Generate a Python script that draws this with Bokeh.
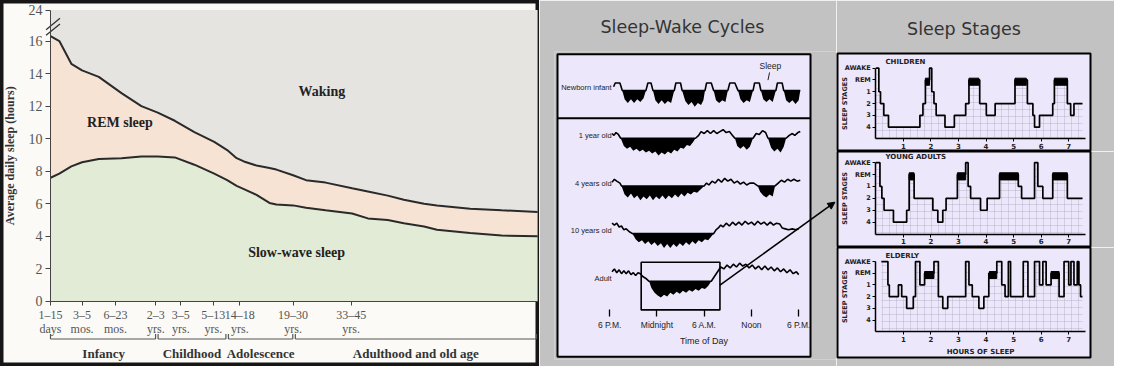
import math
from bokeh.plotting import figure
from bokeh.layouts import row, column
from bokeh.models import FixedTicker, Range1d, Arrow, NormalHead
from bokeh.core.properties import value
from bokeh.embed import file_html
from bokeh.resources import INLINE

# ---------------- Left chart: average daily sleep by age ----------------
age_range = ["1–15", "3–5", "6–23", "2–3", "3–5", "5–13", "14–18", "19–30", "33–45"]
age_unit = ["days", "mos.", "mos.", "yrs.", "yrs.", "yrs.", "yrs.", "yrs.", "yrs."]
age_pos = [0.0, 1.0, 2.06, 3.34, 4.13, 5.16, 6.0, 7.69, 9.53]
life_stages = ["Infancy", "Childhood", "Adolescence", "Adulthood and old age"]
life_stage_bounds = [0.0, 3.37, 5.6, 7.72, 15.44]

curve_x = [0.0, 0.28, 0.66, 1.0, 1.53, 2.25, 2.88, 3.4, 3.94, 4.56, 5.19, 5.6, 5.9, 6.13,
           6.53, 6.94, 7.16, 7.69, 8.1, 8.72, 9.56, 10.06, 10.69, 11.2, 11.84, 12.25,
           13.3, 14.3, 15.44]
total_sleep = [16.3, 16.0, 14.6, 14.2, 13.8, 12.8, 12.0, 11.6, 11.1, 10.4, 9.8, 9.3, 8.8, 8.6,
               8.35, 8.2, 8.1, 7.75, 7.45, 7.3, 6.95, 6.75, 6.5, 6.25, 6.0, 5.9,
               5.7, 5.6, 5.5]
nrem_sleep = [7.6, 7.85, 8.3, 8.55, 8.75, 8.8, 8.9, 8.9, 8.85, 8.4, 7.85, 7.45, 7.1, 6.9,
              6.55, 6.05, 5.95, 5.9, 5.75, 5.6, 5.4, 5.1, 5.0, 4.8, 4.6, 4.4,
              4.2, 4.05, 4.0]
y_ticks = [0, 2, 4, 6, 8, 10, 12, 14, 16]
y_top_tick = 17.9          # compressed axis top, labelled 24 h
y_top_label = "24"

# ---------------- Sleep-wake cycles (hours after 6 P.M., trace level) ----------------
sw_rows = ["Newborn infant", "1 year old", "4 years old", "10 years old", "Adult"]
newborn_t = [0.5, 0.7, 1.3, 1.6, 1.9, 2.3, 2.7, 3.1, 3.5, 3.9, 4.3, 4.6, 4.85, 5.25, 5.5, 5.8,
             6.2, 6.6, 7.0, 7.4, 7.8, 8.2, 8.4, 9.0, 9.2, 9.6, 10.0, 10.4, 10.8, 11.2, 11.6,
             11.9, 12.1, 12.3, 12.9, 13.2, 13.5, 13.9, 14.3, 14.7, 15.0, 15.25, 15.9, 16.3,
             16.6, 17.0, 17.4, 17.8, 18.2, 18.4, 19.0, 19.2, 19.5, 19.9, 20.3, 20.7, 21.1,
             21.3, 21.9, 22.1, 22.4, 22.8, 23.2, 23.6, 24.0, 24.2]
newborn_lv = [4, 8, 8, 0, -9, -13, -9, -13, -9, -12, -8, 0, 8, 8, 0, -10,
              -14, -10, -14, -11, -13, 0, 8, 8, 0, -11, -15, -12, -17, -13, -15,
              -10, 0, 8, 8, 0, -10, -13, -10, -12, 0, 8, 8, 0,
              -9, -13, -10, -12, 0, 8, 8, 0, -9, -12, -9, -12, 0,
              8, 8, 0, -10, -13, -10, -14, -10, 0]
year1_t = [0.3, 0.55, 0.8, 1.1, 1.4, 1.8, 2.2, 2.6, 3.0, 3.4, 3.8, 4.2, 4.6, 5.0, 5.4, 5.8,
           6.2, 6.6, 7.0, 7.4, 7.8, 8.2, 8.6, 9.0, 9.4, 9.8, 10.2, 10.6, 10.9, 11.3, 11.6,
           12.0, 12.4, 12.8, 13.2, 13.6, 14.0, 14.4, 14.8, 15.2, 15.6, 15.9, 16.2, 16.6,
           17.0, 17.4, 17.8, 18.2, 18.6, 19.0, 19.4, 19.8, 20.1, 20.5, 20.9, 21.3, 21.7,
           22.1, 22.4, 22.8, 23.2, 23.5, 23.9, 24.2]
year1_lv = [5, 3, 6, 4, 0, -8, -11, -9, -13, -11, -14, -12, -15, -13, -16, -14,
            -18, -15, -17, -14, -16, -12, -14, -10, -11, -7, -8, -4, 0, 3, 7,
            5, 8, 5, 8, 5, 7, 9, 6, 7, 3, 0, -8, -11,
            -8, -12, -9, 0, 5, 4, 8, 6, 0, -10, -14, -11, -15,
            -9, 0, 3, 5, 3, 6, 7]
year4_t = [0.3, 0.6, 0.9, 1.3, 1.5, 1.9, 2.3, 2.7, 3.1, 3.5, 3.9, 4.3, 4.7, 5.1, 5.5, 5.9,
           6.3, 6.7, 7.1, 7.5, 7.9, 8.3, 8.7, 9.1, 9.5, 9.9, 10.3, 10.7, 11.1, 11.5, 12.0,
           12.3, 12.6, 13.0, 13.4, 13.8, 14.2, 14.6, 15.0, 15.4, 15.8, 16.2, 16.6, 17.0,
           17.4, 17.8, 18.3, 18.8, 19.1, 19.5, 19.9, 20.3, 20.7, 21.0, 21.4, 21.8, 22.2,
           22.6, 23.0, 23.4, 23.8, 24.2]
year4_lv = [4, 7, 5, 3, 0, -9, -12, -8, -13, -10, -15, -11, -14, -10, -15, -11,
            -14, -10, -14, -10, -13, -9, -12, -8, -11, -7, -9, -6, -7, -4, 0,
            3, 1, 5, 3, 7, 4, 8, 5, 7, 3, 5, 2, 4,
            1, 3, 3, 0, -6, -10, -12, -9, -11, 0, 3, 6, 4,
            7, 5, 7, 5, 6]
year10_t = [0.3, 0.6, 0.9, 1.2, 1.5, 1.8, 2.1, 2.5, 2.9, 3.3, 3.7, 4.1, 4.5, 4.9, 5.3, 5.7,
            6.1, 6.5, 6.9, 7.3, 7.7, 8.1, 8.5, 8.9, 9.3, 9.7, 10.1, 10.5, 10.9, 11.3, 11.7,
            12.1, 12.5, 12.9, 13.2, 13.5, 13.8, 14.1, 14.4, 14.8, 15.2, 15.6, 16.0, 16.4,
            16.8, 17.2, 17.6, 18.0, 18.4, 18.8, 19.2, 19.6, 20.0, 20.4, 20.8, 21.2, 21.6,
            21.9, 22.3, 22.7, 23.2, 23.6, 24.0]
year10_lv = [11, 9, 11, 7, 8, 4, 5, 2, 0, -6, -9, -7, -11, -8, -12, -9,
             -13, -10, -15, -11, -15, -11, -14, -10, -13, -9, -12, -8, -11, -7, -9,
             -6, -7, -3, 0, 4, 6, 9, 7, 11, 8, 12, 9, 12,
             9, 13, 10, 12, 9, 13, 10, 12, 9, 12, 9, 11, 10,
             6, 5, 4, 5, 4, 5]
adult_t = [0.3, 0.6, 0.9, 1.2, 1.5, 1.8, 2.1, 2.4, 2.7, 3.0, 3.3, 3.6, 3.9, 4.2, 4.6, 5.0,
           5.3, 5.7, 6.1, 6.5, 6.9, 7.3, 7.7, 8.1, 8.5, 8.9, 9.3, 9.7, 10.1, 10.5, 10.9,
           11.3, 11.7, 12.1, 12.5, 12.9, 13.3, 13.7, 14.1, 14.5, 14.9, 15.3, 15.7, 16.1,
           16.5, 16.9, 17.3, 17.7, 18.1, 18.5, 18.9, 19.3, 19.7, 20.1, 20.5, 20.9, 21.3,
           21.7, 22.1, 22.5, 22.9, 23.3, 23.7, 24.0]
adult_lv = [10, 13, 9, 12, 8, 11, 8, 11, 7, 9, 6, 9, 8, 5, 3, 0,
            -7, -12, -15, -17, -14, -16, -12, -14, -11, -13, -10, -12, -9, -11, -8,
            -10, -7, -8, -5, 0, 5, 10, 15, 13, 17, 14, 18, 15,
            19, 16, 18, 14, 17, 13, 16, 12, 16, 12, 15, 11, 14,
            10, 13, 9, 12, 8, 10, 7]
time_ticks = [0, 6, 12, 18, 24]
time_labels = ["6 P.M.", "Midnight", "6 A.M.", "Noon", "6 P.M."]
adult_window = [4.0, 14.0]     # 10 P.M. to 8 A.M., expanded on the right

# ---------------- Sleep stages (hypnograms) ----------------
stage_names = ["4", "3", "2", "1", "REM", "AWAKE"]
children_t = [0, 0.11, 0.17, 0.29, 0.46, 1.6, 1.71, 1.8, 1.95, 2.03, 2.11, 2.19, 2.51, 2.85,
              3.26, 3.38, 3.77, 4.01, 4.33, 5.05, 5.5, 5.7, 5.76, 5.94, 6.42, 6.48, 6.95,
              7.07, 7.19, 7.5]
children_s = ["AWAKE", "1", "2", "3", "4", "3", "2", "REM", "AWAKE", "1", "2", "3", "4", "3",
              "2", "REM", "2", "3", "2", "REM", "2", "3", "4", "3", "2", "REM", "2", "3", "2"]
children_rem = [(1.8, 1.95), (3.38, 3.74), (5.05, 5.46), (6.48, 6.95)]
young_t = [0, 0.15, 0.22, 0.3, 0.64, 1.12, 1.21, 1.39, 2.07, 2.25, 2.43, 2.55, 2.96, 3.26,
           3.35, 3.44, 3.8, 4.04, 4.49, 5.17, 5.29, 5.76, 5.88, 6.06, 6.42, 6.95, 7.5]
young_s = ["AWAKE", "1", "2", "3", "4", "3", "REM", "2", "3", "4", "3", "2", "REM", "AWAKE",
           "1", "2", "3", "2", "REM", "1", "2", "AWAKE", "1", "2", "REM", "2"]
young_rem = [(1.21, 1.39), (2.96, 3.26), (4.49, 5.17), (6.42, 6.95)]
elderly_t = [0.2, 0.44, 0.49, 0.82, 0.94, 1.12, 1.36, 1.44, 1.6, 1.77, 2.11, 2.27, 2.43, 2.61,
             3.26, 3.38, 3.5, 3.74, 3.92, 4.1, 4.39, 4.57, 4.69, 4.81, 4.89, 5.35, 5.52,
             5.76, 5.94, 6.06, 6.18, 6.36, 6.65, 6.83, 7.0, 7.08, 7.19, 7.31, 7.37, 7.43, 7.5]
elderly_s = ["AWAKE", "1", "2", "1", "2", "3", "2", "AWAKE", "1", "REM", "AWAKE", "2", "3",
             "2", "AWAKE", "1", "2", "3", "2", "REM", "AWAKE", "1", "2", "AWAKE", "2", "AWAKE",
             "2", "AWAKE", "1", "AWAKE", "1", "REM", "2", "AWAKE", "1", "AWAKE", "1", "AWAKE",
             "1", "2"]
elderly_rem = [(1.77, 2.11), (4.12, 4.39), (6.36, 6.65)]
hour_ticks = [1, 2, 3, 4, 5, 6, 7]

# ---------------- styling ----------------
SERIF = "Liberation Serif"
SANS = "DejaVu Sans"
SMALL = "Liberation Sans"
GRAY = "#c2c2c2"
LAV = "#ede7fb"
WAKE_C = "#e6e4e1"
REM_C = "#f6e3d4"
SWS_C = "#e2ebd6"
PAPER = "#fbfaf7"
INK = "#2a2a2a"


def no_frame_align(p):
    if "frame_align" in p.properties():
        p.frame_align = False


# ================= LEFT FIGURE (frame spans the whole panel) =================
X_END = life_stage_bounds[-1]
left = figure(width=539, height=366,
              x_range=Range1d(-1.585, 15.50), y_range=Range1d(-4.0, 18.49),
              output_backend="svg", toolbar_location=None, min_border=0,
              min_border_left=0, min_border_right=0, min_border_top=0, min_border_bottom=0,
              background_fill_color=PAPER, border_fill_color=PAPER,
              outline_line_color="#161616", outline_line_width=6)
no_frame_align(left)
left.grid.visible = False

left.varea(x=curve_x, y1=total_sleep, y2=y_top_tick, fill_color=WAKE_C)
left.varea(x=curve_x, y1=0, y2=nrem_sleep, fill_color=SWS_C)
left.varea(x=curve_x, y1=nrem_sleep, y2=total_sleep, fill_color=REM_C)
left.line(curve_x, total_sleep, line_color=INK, line_width=2)
left.line(curve_x, nrem_sleep, line_color=INK, line_width=2)

ya = left.yaxis[0]
ya.fixed_location = 0
ya.bounds = (0, y_top_tick)
ya.ticker = FixedTicker(ticks=y_ticks + [y_top_tick])
ya.major_label_overrides = {y_top_tick: y_top_label}
ya.axis_line_color = "#444"
ya.major_tick_line_color = "#444"
ya.major_tick_out = 5
ya.major_tick_in = 0
ya.minor_tick_line_color = None
ya.major_label_standoff = 3
ya.major_label_text_font = SERIF
ya.major_label_text_font_size = "14px"
ya.major_label_text_color = "#555"

left.text(x=[-1.27], y=[y_top_tick / 2], text=["Average daily sleep (hours)"], angle=math.pi / 2,
          text_font=value(SERIF), text_font_style="bold", text_font_size="12px",
          text_color="#333", text_align="center", text_baseline="middle")
# axis break marks
left.segment(x0=[-0.14, -0.14], y0=[16.35, 16.7], x1=[0.3, 0.3], y1=[17.05, 17.4],
             line_color="#333", line_width=1.3)

# age groups: first line of each label on the axis, second line below it
xa = left.xaxis[0]
xa.fixed_location = 0
xa.bounds = (0, X_END)
xa.ticker = FixedTicker(ticks=age_pos)
xa.major_label_overrides = dict(zip(age_pos, age_range))
xa.axis_line_color = "#444"
xa.major_tick_line_color = "#444"
xa.major_tick_out = 4
xa.major_tick_in = 0
xa.minor_tick_line_color = None
xa.major_label_standoff = 3
xa.major_label_text_font = SERIF
xa.major_label_text_font_size = "12px"
xa.major_label_text_color = "#555"

left.text(x=age_pos, y=[-1.72] * len(age_pos), text=age_unit, text_font=value(SERIF),
          text_font_size="12px", text_color="#555", text_align="center", text_baseline="middle")

# life-stage brackets with their names
BR_Y, BR_TICK, BR_GAP = -2.31, 0.3, 0.04
bx0, bx1, by0, by1 = [], [], [], []
for a, b in zip(life_stage_bounds[:-1], life_stage_bounds[1:]):
    a2, b2 = a + (BR_GAP if a > 0 else 0), b - BR_GAP
    bx0 += [a2, a2, b2]
    bx1 += [b2, a2, b2]
    by0 += [BR_Y, BR_Y, BR_Y]
    by1 += [BR_Y, BR_Y + BR_TICK, BR_Y + BR_TICK]
left.segment(x0=bx0, y0=by0, x1=bx1, y1=by1, line_color="#555", line_width=1.2)
centers = [(a + b) / 2 for a, b in zip(life_stage_bounds[:-1], life_stage_bounds[1:])]
left.text(x=centers, y=[-3.2] * len(centers), text=life_stages, text_font=value(SERIF),
          text_font_style="bold", text_font_size="13px", text_color="#333",
          text_align="center", text_baseline="middle")

left.text(x=[2.2, 8.6, 7.8], y=[11.0, 12.9, 3.0], text=["REM sleep", "Waking", "Slow-wave sleep"],
          text_font=value(SERIF), text_font_style="bold", text_font_size="14px",
          text_color="#222", text_align="center", text_baseline="middle")

# ================= SLEEP-WAKE CYCLES =================
BOX_T = (-6.625, 25.5)     # hours covered by the lavender box
BOX_Y = (0, 317)
sw = figure(width=297, height=366, x_range=Range1d(-7.006, 28.80), y_range=Range1d(-3, 320),
            output_backend="svg", toolbar_location=None,
            min_border_left=15, min_border_right=0, min_border_top=50, min_border_bottom=7,
            background_fill_color=GRAY, border_fill_color=GRAY, outline_line_color=None)
no_frame_align(sw)
sw.title.text = "Sleep-Wake Cycles"
sw.title.align = "left"
sw.title.offset = 46
sw.title.text_font = SANS
sw.title.text_font_style = "normal"
sw.title.text_font_size = "17.5px"
sw.title.text_color = "#333"
sw.title.standoff = 29
sw.grid.visible = False

sw.quad(left=[BOX_T[0]], right=[BOX_T[1]], bottom=[BOX_Y[0]], top=[BOX_Y[1]],
        fill_color=LAV, line_color="black", line_width=2)
sw.segment(x0=[BOX_T[0]], x1=[BOX_T[1]], y0=[250], y1=[250], line_color="black", line_width=2)

row_t = [newborn_t, year1_t, year4_t, year10_t, adult_t]
row_lv = [newborn_lv, year1_lv, year4_lv, year10_lv, adult_lv]
row_base = [279 - 50 * i for i in range(len(sw_rows))]
for base, t, lv in zip(row_base, row_t, row_lv):
    top = [base + max(v, 0) for v in lv]
    bottom = [base + min(v, 0) for v in lv]
    sw.varea(x=t, y1=base, y2=bottom, fill_color="black")
    sw.line(t, top, line_color="black", line_width=1.6)

sxa = sw.xaxis[0]
sxa.fixed_location = 42
sxa.bounds = (0, 24)
sxa.ticker = FixedTicker(ticks=time_ticks)
sxa.major_label_overrides = dict(zip(time_ticks, time_labels))
sxa.axis_line_color = None
sxa.major_tick_in = 7
sxa.major_tick_out = 0
sxa.major_tick_line_width = 1.3
sxa.minor_tick_line_color = None
sxa.major_label_standoff = 3
sxa.major_label_text_font = SMALL
sxa.major_label_text_font_size = "8.5px"
sxa.major_label_text_color = "#222"
sxa.axis_label = "Time of Day"
sxa.axis_label_text_font = SMALL
sxa.axis_label_text_font_style = "normal"
sxa.axis_label_text_font_size = "9px"
sxa.axis_label_text_color = "#222"
sxa.axis_label_standoff = 3

sya = sw.yaxis[0]
sya.fixed_location = 0.5
label_y = [b + 3 for b in row_base]
sya.ticker = FixedTicker(ticks=label_y)
sya.major_label_overrides = dict(zip(label_y, sw_rows))
sya.major_label_standoff = 2
sya.major_tick_in = 0
sya.major_tick_out = 0
sya.axis_line_color = None
sya.major_tick_line_color = None
sya.minor_tick_line_color = None
sya.major_label_text_font = SMALL
sya.major_label_text_font_size = "7.5px"
sya.major_label_text_color = "#222"

sw.text(x=[20.4], y=[305], text=["Sleep"], text_font=value(SMALL), text_font_size="8.5px",
        text_align="center", text_baseline="middle", text_color="#222")
sw.segment(x0=[20.3], y0=[298], x1=[20.1], y1=[290], line_color="#222", line_width=1)

adult_base = row_base[-1]
sw.quad(left=[adult_window[0]], right=[adult_window[1]], bottom=[adult_base - 30],
        top=[adult_base + 20], fill_alpha=0, line_color="black", line_width=1.6)
sw.add_layout(Arrow(end=NormalHead(size=7, fill_color="black", line_color="black"),
                    x_start=adult_window[1], y_start=adult_base - 4,
                    x_end=28.6, y_end=162, line_color="black", line_width=1.5))


# ================= SLEEP STAGES =================
def hypnogram(times, stages, rem, name, height, top_b, bottom_b, y_lo, y_hi,
              title=None, xlabel=None):
    p = figure(width=278, height=height, x_range=Range1d(-1.39, 7.79), y_range=Range1d(y_lo, y_hi),
               output_backend="svg", toolbar_location=None,
               min_border_left=1, min_border_right=24, min_border_top=top_b,
               min_border_bottom=bottom_b,
               background_fill_color=LAV, border_fill_color=GRAY,
               outline_line_color="black", outline_line_width=2)
    no_frame_align(p)
    p.grid.visible = False
    if title:
        p.title.text = title
        p.title.align = "center"
        p.title.text_font = SANS
        p.title.text_font_style = "normal"
        p.title.text_font_size = "17.5px"
        p.title.text_color = "#333"
        p.title.standoff = 29
    levels = [stage_names.index(s) + 1 for s in stages]
    xs, ys = [], []
    for i, lv in enumerate(levels):
        xs += [times[i], times[i + 1]]
        ys += [lv, lv]
    p.varea(x=xs, y1=0, y2=ys, fill_alpha=0, hatch_pattern="+", hatch_color="#9d96b5",
            hatch_alpha=0.45, hatch_scale=7, hatch_weight=0.7)
    p.line(xs, ys, line_color="black", line_width=1.7)
    p.quad(left=[a for a, b in rem], right=[b for a, b in rem], bottom=4.55, top=5.15,
           fill_color="black", line_color="black")
    p.text(x=[0.35], y=[6.5], text=[name], text_font=value(SANS), text_font_size="7px",
           text_font_style="bold", text_baseline="middle", text_color="#222")
    p.text(x=[-1.13], y=[3.0], text=["SLEEP STAGES"], angle=math.pi / 2,
           text_font=value(SANS), text_font_size="6.5px", text_font_style="bold",
           text_align="center", text_baseline="middle", text_color="#222")

    xa_ = p.xaxis[0]
    xa_.fixed_location = 0
    xa_.bounds = (0, 7.6)
    xa_.ticker = FixedTicker(ticks=hour_ticks)
    xa_.axis_line_width = 1.5
    xa_.major_tick_out = 3
    xa_.major_tick_in = 0
    xa_.minor_tick_line_color = None
    xa_.major_label_standoff = 1
    xa_.major_label_text_font = SANS
    xa_.major_label_text_font_style = "bold"
    xa_.major_label_text_font_size = "7px"
    xa_.major_label_text_color = "#222"
    if xlabel:
        xa_.axis_label = xlabel
        xa_.axis_label_text_font = SANS
        xa_.axis_label_text_font_style = "bold"
        xa_.axis_label_text_font_size = "7px"
        xa_.axis_label_text_color = "#222"
        xa_.axis_label_standoff = 3

    ya_ = p.yaxis[0]
    ya_.fixed_location = 0
    ya_.bounds = (0, 6)
    ya_.ticker = FixedTicker(ticks=list(range(1, len(stage_names) + 1)))
    ya_.major_label_overrides = {i + 1: s for i, s in enumerate(stage_names)}
    ya_.axis_line_width = 1.5
    ya_.major_tick_out = 3
    ya_.major_tick_in = 0
    ya_.minor_tick_line_color = None
    ya_.major_label_standoff = 2
    ya_.major_label_text_font = SANS
    ya_.major_label_text_font_style = "bold"
    ya_.major_label_text_font_size = "6.5px"
    ya_.major_label_text_color = "#222"
    return p


h1 = hypnogram(children_t, children_s, children_rem, "CHILDREN", 151, 53, 0, -1.06, 7.24,
               title="Sleep Stages")
h2 = hypnogram(young_t, young_s, young_rem, "YOUNG ADULTS", 96, 0, 0, -1.13, 6.94)
h3 = hypnogram(elderly_t, elderly_s, elderly_rem, "ELDERLY", 119, 0, 9, -2.2, 7.2,
               xlabel="HOURS OF SLEEP")

layout = row(left, sw, column(h1, h2, h3))

open("out.html", "w").write(file_html(layout, INLINE))
